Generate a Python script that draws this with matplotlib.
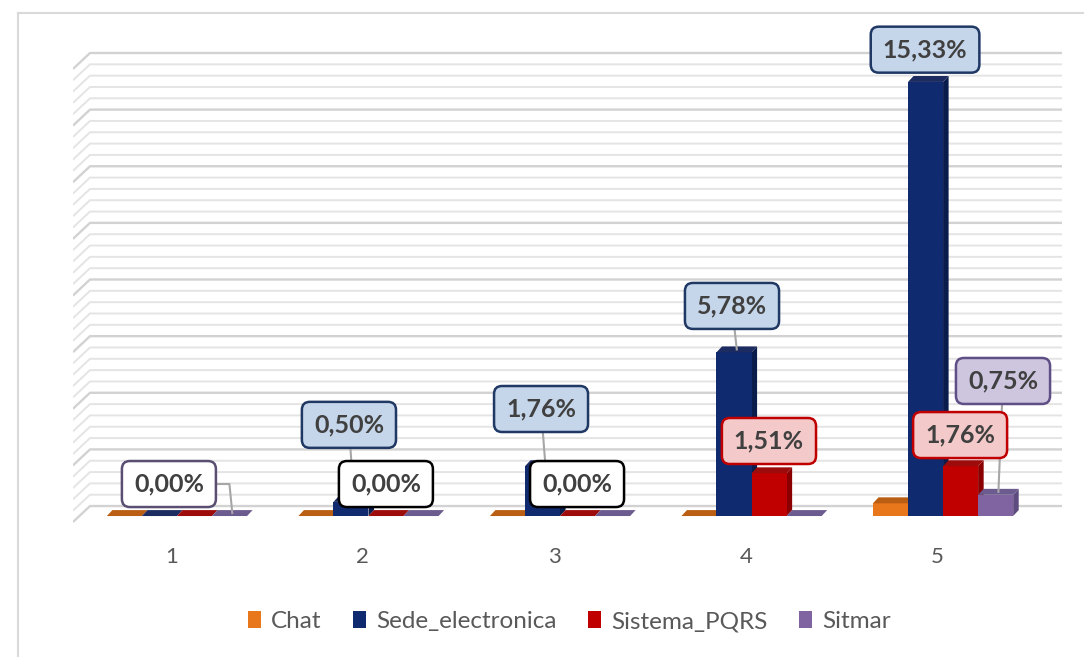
import matplotlib
matplotlib.use("Agg")
import matplotlib.pyplot as plt
from matplotlib.patches import Polygon, Patch, FancyBboxPatch

CATEGORIES = ["1", "2", "3", "4", "5"]
SERIES = ["Chat", "Sede_electronica", "Sistema_PQRS", "Sitmar"]
CHAT = [0.0, 0.0, 0.0, 0.0, 0.45]
SEDE = [0.0, 0.50, 1.76, 5.78, 15.33]
PQRS = [0.0, 0.0, 0.0, 1.51, 1.76]
SITMAR = [0.0, 0.0, 0.0, 0.0, 0.75]
VALUES = [CHAT, SEDE, PQRS, SITMAR]

FRONT = ["#E8761A", "#0F2A6E", "#C00000", "#8064A2"]
TOP = ["#B95E12", "#1D2C60", "#9E0B0B", "#6C5B8E"]
SIDE = ["#A9520C", "#0A1C4C", "#8A0000", "#5E4C80"]
INK = "#404040"
TICK = "#595959"

# (series, category, box x, box y, fill, edge, leader)
LABELS = [
    (3, 0, 0.958, 1.13, "white", "#5A4E72", "elbow"),
    (1, 1, 1.898, 3.22, "#C5D5EA", "#1F3864", "line"),
    (2, 1, 2.091, 1.13, "white", "#000000", None),
    (1, 2, 2.901, 3.78, "#C5D5EA", "#1F3864", "line"),
    (2, 2, 3.089, 1.13, "white", "#000000", None),
    (1, 3, 3.898, 7.42, "#C5D5EA", "#1F3864", "line"),
    (2, 3, 4.091, 2.65, "#F3C9C9", "#C00000", None),
    (1, 4, 4.906, 16.47, "#C5D5EA", "#1F3864", None),
    (2, 4, 5.089, 2.86, "#F3C9C9", "#C00000", None),
    (3, 4, 5.313, 4.77, "#CEC5DF", "#5F4F86", "line"),
]

plt.rcParams["font.family"] = ["Lato", "DejaVu Sans"]

W = 0.183          # bar width in category units
DX, DY = 0.029, 0.21   # bar depth (x in categories, y in percent)

fig = plt.figure(figsize=(10.84, 6.57), dpi=100)
fig.patch.set_facecolor("white")
ax = fig.add_axes([0.0673, 0.1887, 0.9124, 0.7413])
ax.set_xlim(0.457, 5.621)
ax.set_ylim(-0.6, 16.6)
ax.axis("off")

# chart frame (only left and top edges fall inside the image)
fig.add_artist(plt.Line2D([18 / 1084, 18 / 1084], [0, 1 - 13 / 657], color="#D9D9D9", lw=1.5))
fig.add_artist(plt.Line2D([18 / 1084, 1], [1 - 13 / 657, 1 - 13 / 657], color="#D9D9D9", lw=1.5))

# back wall gridlines, bent down onto the side wall at the left
back = 0.353
for k in range(41):
    v = k * 0.4
    major = k % 5 == 0
    ax.plot([0.457, 0.546, 5.621], [v + back - 0.565, v + back, v + back],
            color="#D2D2D2" if major else "#E4E4E4", lw=1.7 if major else 1.4,
            zorder=1, solid_capstyle="butt")

xs = list(range(1, len(CATEGORIES) + 1))
for j, vals in enumerate(VALUES):
    lefts = [x - 2 * W + j * W for x in xs]
    ax.bar(lefts, vals, width=W, align="edge", color=FRONT[j], lw=0, zorder=3 + j * 0.01)
    for x0, v in zip(lefts, vals):
        top = [(x0, v), (x0 + W, v), (x0 + W + DX, v + DY), (x0 + DX, v + DY)]
        ax.add_patch(Polygon(top, closed=True, fc=TOP[j], ec="none", zorder=3 + j * 0.01))
        if v > 0:
            side = [(x0 + W, 0), (x0 + W + DX, DY), (x0 + W + DX, v + DY), (x0 + W, v)]
            ax.add_patch(Polygon(side, closed=True, fc=SIDE[j], ec="none", zorder=2.9 + j * 0.01))

texts = []
for s, c, bx, by, fc, ec, leader in LABELS:
    v = VALUES[s][c]
    bar_x = xs[c] - 2 * W + s * W + W / 2 + DX / 2
    if leader == "line":
        ax.plot([bx, bar_x], [by, v + DY / 2], color="#A6A6A6", lw=1.5, zorder=4)
    elif leader == "elbow":
        ax.plot([bx, bar_x - 0.015, bar_x], [by, by, v + DY / 2], color="#A6A6A6", lw=1.5, zorder=4)
    txt = f"{v:.2f}".replace(".", ",") + "%"
    t = ax.text(bx, by, txt, ha="center", va="center", fontsize=18, weight="bold", color=INK,
                zorder=7, clip_on=False)
    texts.append((t, bx, by, fc, ec))

# rounded callout boxes sized from the rendered text
fig.canvas.draw()
px_x = 1 / (ax.transData.transform((1, 0))[0] - ax.transData.transform((0, 0))[0])
px_y = 1 / (ax.transData.transform((0, 1))[1] - ax.transData.transform((0, 0))[1])
for t, bx, by, fc, ec in texts:
    ext = t.get_window_extent()
    hw = (ext.width / 2 + 12) * px_x
    hh = 23 * px_y
    box = FancyBboxPatch((bx - hw, by - hh), 2 * hw, 2 * hh,
                         boxstyle="round,pad=0,rounding_size=%f" % (8 * px_x),
                         mutation_aspect=px_y / px_x, fc=fc, ec=ec, lw=1.8,
                         zorder=6, clip_on=False)
    ax.add_patch(box)

for x, lab in zip(xs, CATEGORIES):
    ax.text(x - 0.03, -1.45, lab, ha="center", va="center", fontsize=16, color=TICK)

handles = [Patch(fc=FRONT[j], ec="none", label=SERIES[j]) for j in range(len(SERIES))]
fig.legend(handles=handles, loc="center", bbox_to_anchor=(0.525, 0.054), ncol=4, frameon=False,
           fontsize=17.5, labelcolor=TICK, handlelength=0.55, handleheight=0.65,
           handletextpad=0.4, columnspacing=1.3)

fig.savefig("out.png", dpi=100, facecolor="white")
